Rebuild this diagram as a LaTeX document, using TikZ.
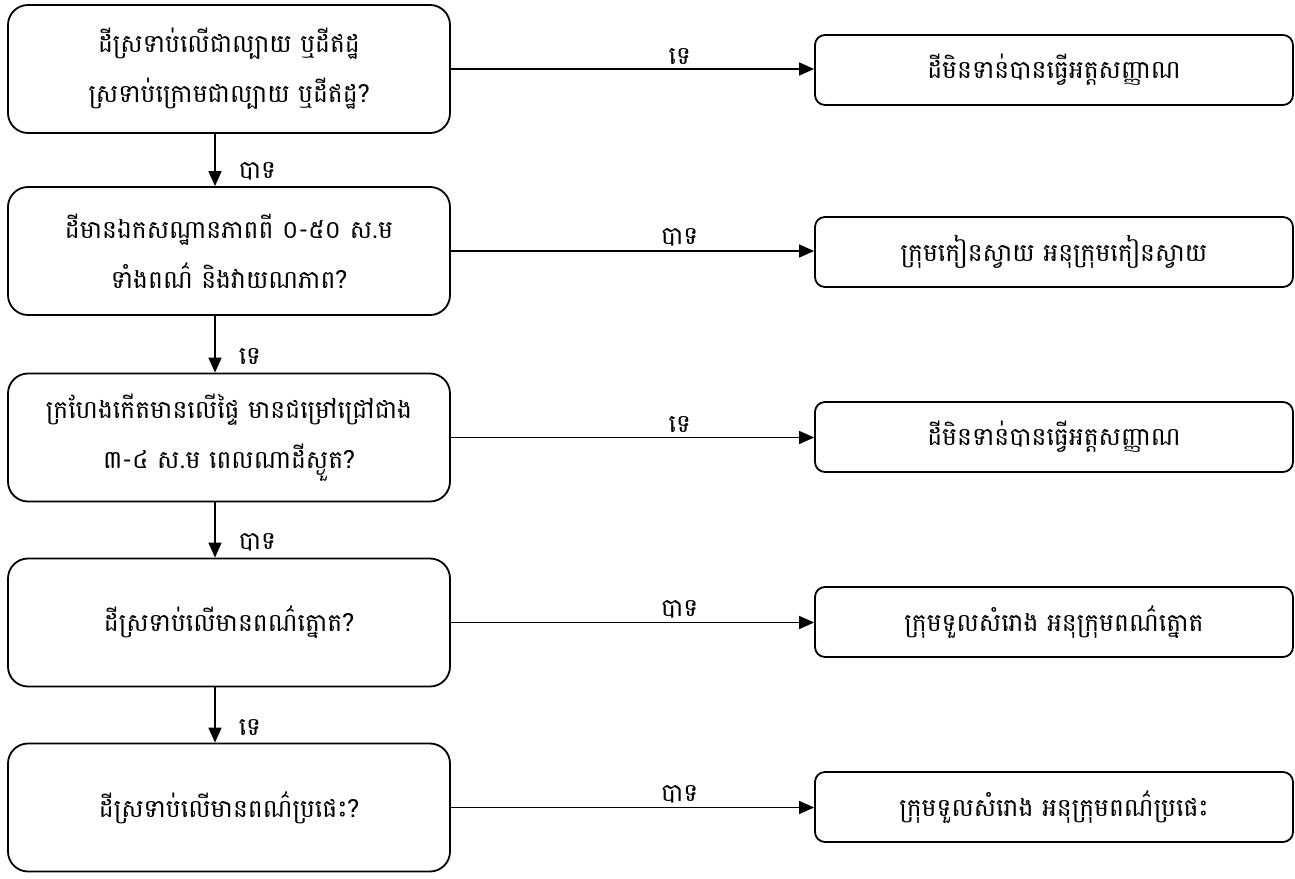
\documentclass[tikz,border=0pt]{standalone}
\usepackage{fontspec}
\newfontfamily\khmer[Script=Khmer]{Battambang}
\usetikzlibrary{arrows.meta}
\begin{document}
\begin{tikzpicture}[x=1pt,y=-1pt,
  qbox/.style={draw, line width=1.8pt, rounded corners=20pt, minimum width=442pt, minimum height=128pt, inner sep=0pt, align=center, font=\khmer\fontsize{25}{50}\selectfont},
  rbox/.style={draw, line width=1.8pt, rounded corners=10pt, minimum width=478pt, minimum height=70pt, inner sep=0pt, align=center, font=\khmer\fontsize{25}{30}\selectfont},
  conn/.style={line width=1.5pt, -{Triangle[length=15pt,width=13pt]}},
  lbl/.style={font=\khmer\fontsize{25}{28}\selectfont, inner sep=1pt}]
\useasboundingbox (0,0) rectangle (1295,878);
\node[qbox] (q1) at (229,69) {ដីស្រទាប់លើជាល្បាយ ឬដីឥដ្ឋ\\ស្រទាប់ក្រោមជាល្បាយ ឬដីឥដ្ឋ?};
\node[qbox] (q2) at (229,251) {ដីមានឯកសណ្ឋានភាពពី ០-៥០ ស.ម\\ទាំងពណ៌ និងវាយណភាព?};
\node[qbox] (q3) at (229,437.5) {ក្រហែងកើតមានលើផ្ទៃ មានជម្រៅជ្រៅជាង\\៣-៤ ស.ម ពេលណាដីស្ងួត?};
\node[qbox] (q4) at (229,622.5) {ដីស្រទាប់លើមានពណ៌ត្នោត?};
\node[qbox] (q5) at (229,807.5) {ដីស្រទាប់លើមានពណ៌ប្រផេះ?};
\node[rbox] (r1) at (1054,70) {ដីមិនទាន់បានធ្វើអត្តសញ្ញាណ};
\node[rbox] (r2) at (1054,252) {ក្រុមកៀនស្វាយ អនុក្រុមកៀនស្វាយ};
\node[rbox] (r3) at (1054,437) {ដីមិនទាន់បានធ្វើអត្តសញ្ញាណ};
\node[rbox] (r4) at (1054,622) {ក្រុមទួលសំរោង អនុក្រុមពណ៌ត្នោត};
\node[rbox] (r5) at (1054,807) {ក្រុមទួលសំរោង អនុក្រុមពណ៌ប្រផេះ};
\draw[conn] (q1.east) -- (q1.east -| r1.west) node[lbl, pos=0.63, above=3pt] {ទេ};
\draw[conn] (q2.east) -- (q2.east -| r2.west) node[lbl, pos=0.63, above=3pt] {បាទ};
\draw[conn] (q3.east) -- (q3.east -| r3.west) node[lbl, pos=0.63, above=3pt] {ទេ};
\draw[conn] (q4.east) -- (q4.east -| r4.west) node[lbl, pos=0.63, above=3pt] {បាទ};
\draw[conn] (q5.east) -- (q5.east -| r5.west) node[lbl, pos=0.63, above=3pt] {បាទ};
\draw[conn] ([xshift=-14pt]q1.south) -- ([xshift=-14pt]q2.north) node[lbl, pos=0.72, anchor=west, xshift=22pt] {បាទ};
\draw[conn] ([xshift=-14pt]q2.south) -- ([xshift=-14pt]q3.north) node[lbl, pos=0.72, anchor=west, xshift=22pt] {ទេ};
\draw[conn] ([xshift=-14pt]q3.south) -- ([xshift=-14pt]q4.north) node[lbl, pos=0.72, anchor=west, xshift=22pt] {បាទ};
\draw[conn] ([xshift=-14pt]q4.south) -- ([xshift=-14pt]q5.north) node[lbl, pos=0.72, anchor=west, xshift=22pt] {ទេ};
\end{tikzpicture}
\end{document}
